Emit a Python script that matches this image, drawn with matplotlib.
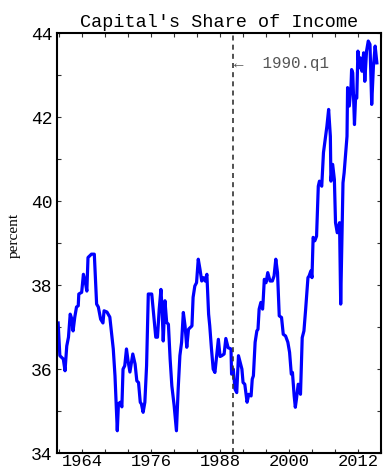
import matplotlib
matplotlib.use("Agg")
import matplotlib.pyplot as plt
from matplotlib.ticker import MultipleLocator, FixedLocator

# --- data (year, capital share in percent) ---
years = [1959.8, 1960.1, 1960.7, 1961.0, 1961.3, 1961.6, 1961.9, 1962.2, 1962.4, 1962.7,
         1963.0, 1963.3, 1963.4, 1963.9, 1964.2, 1964.5, 1964.8, 1965.0, 1965.6, 1966.1,
         1966.5, 1966.8, 1967.2, 1967.6, 1967.8, 1968.3, 1968.5, 1968.8, 1969.4, 1969.7,
         1970.1, 1970.3, 1970.6, 1970.9, 1971.1, 1971.4, 1971.7, 1972.0, 1972.3, 1972.8,
         1973.2, 1973.5, 1973.8, 1974.1, 1974.3, 1974.6, 1974.9, 1975.2, 1975.5, 1976.1,
         1976.4, 1976.8, 1977.1, 1977.4, 1977.7, 1977.9, 1978.1, 1978.4, 1978.7, 1979.0,
         1979.3, 1979.6, 1980.0, 1980.4, 1980.7, 1981.0, 1981.3, 1981.6, 1981.9, 1982.2,
         1982.5, 1982.8, 1983.1, 1983.3, 1983.6, 1983.9, 1984.2, 1984.5, 1984.8, 1985.1,
         1985.4, 1985.7, 1986.0, 1986.2, 1986.5, 1986.8, 1987.1, 1987.4, 1987.7, 1988.0,
         1988.3, 1988.7, 1989.0, 1989.4, 1989.9, 1990.0, 1990.3, 1990.6, 1990.9, 1991.2,
         1991.5, 1991.8, 1992.0, 1992.3, 1992.7, 1993.0, 1993.4, 1993.6, 1993.8, 1994.1,
         1994.4, 1994.6, 1994.8, 1995.1, 1995.4, 1995.5, 1995.7, 1996.0, 1996.3, 1996.7,
         1997.1, 1997.4, 1997.7, 1998.0, 1998.3, 1998.7, 1999.0, 1999.4, 1999.8, 2000.1,
         2000.4, 2000.6, 2000.9, 2001.1, 2001.3, 2001.6, 2002.0, 2002.3, 2002.6, 2002.9,
         2003.3, 2003.5, 2003.8, 2004.0, 2004.2, 2004.5, 2004.8, 2005.1, 2005.3, 2005.7,
         2006.0, 2006.3, 2006.6, 2006.9, 2007.2, 2007.3, 2007.6, 2007.9, 2008.1, 2008.4,
         2008.8, 2009.0, 2009.4, 2009.6, 2010.1, 2010.2, 2010.5, 2010.8, 2010.9, 2011.1,
         2011.4, 2011.6, 2011.8, 2012.0, 2012.2, 2012.4, 2012.7, 2013.0, 2013.2, 2013.5,
         2013.8, 2014.1, 2014.4, 2014.7, 2015.0, 2015.3]
share = [37.10, 36.32, 36.24, 35.96, 36.55, 36.76, 37.31, 37.19, 36.91, 37.24,
         37.48, 37.51, 37.79, 37.83, 38.26, 38.10, 37.86, 38.66, 38.74, 38.74,
         37.55, 37.48, 37.19, 37.10, 37.39, 37.36, 37.31, 37.24, 36.48, 35.84,
         34.53, 35.17, 35.21, 35.10, 36.00, 36.08, 36.48, 36.17, 35.93, 36.36,
         36.12, 35.72, 35.68, 35.21, 35.17, 34.97, 35.21, 36.08, 37.79, 37.79,
         37.36, 36.76, 36.76, 37.43, 37.90, 37.43, 36.67, 37.63, 37.11, 37.07,
         36.24, 35.60, 35.13, 34.53, 35.52, 36.32, 36.64, 37.35, 37.03, 36.52,
         36.95, 36.99, 37.03, 37.71, 37.98, 38.06, 38.62, 38.38, 38.10, 38.18,
         38.10, 38.26, 37.31, 37.03, 36.48, 36.00, 35.92, 36.32, 36.71, 36.30,
         36.32, 36.36, 36.73, 36.51, 36.48, 35.88, 36.00, 35.52, 35.44, 36.32,
         36.16, 36.00, 35.68, 35.64, 35.21, 35.40, 35.36, 35.76, 35.84, 36.64,
         36.91, 36.95, 37.43, 37.59, 37.43, 37.63, 38.14, 38.06, 38.30, 38.10,
         38.10, 38.22, 38.62, 38.30, 37.27, 37.23, 36.83, 36.79, 36.64, 36.40,
         35.88, 35.92, 35.36, 35.09, 35.29, 35.64, 35.40, 36.75, 36.91, 37.43,
         38.18, 38.22, 38.34, 38.18, 39.14, 39.06, 39.17, 40.36, 40.48, 40.36,
         41.16, 41.48, 41.79, 42.19, 41.55, 40.48, 40.88, 40.52, 39.49, 39.25,
         39.49, 37.55, 40.44, 40.68, 41.55, 42.71, 42.27, 42.75, 43.14, 43.06,
         41.83, 42.50, 42.46, 43.58, 43.18, 43.42, 43.10, 43.54, 42.86, 43.58,
         43.82, 43.74, 42.31, 43.22, 43.70, 43.30]

break_year = 1990.2
break_label = "\u2190  1990.q1"
title = "Capital's Share of Income"
xlabels = [1964, 1976, 1988, 2000, 2012]
ylabels = [34, 36, 38, 40, 42, 44]

mono = ["Liberation Mono", "DejaVu Sans Mono"]

fig = plt.figure(figsize=(3.84, 4.71), dpi=100)
ax = fig.add_axes([0.1484, 0.0382, 0.845, 0.8907])

ax.plot(years, share, color="#0000ff", lw=2.3, solid_joinstyle="round")
ax.axvline(break_year, color="#333333", lw=1.2, ls=(0, (3, 2.5)))
ax.text(break_year + 0.3, 43.29, break_label, family=mono, fontsize=11.3,
        color="#555555", ha="left", va="center")

ax.set_xlim(1959.6, 2016.1)
ax.set_ylim(34, 44)

ax.xaxis.set_major_locator(FixedLocator(xlabels))
ax.xaxis.set_minor_locator(MultipleLocator(4))
ax.yaxis.set_major_locator(FixedLocator(ylabels))
ax.yaxis.set_minor_locator(MultipleLocator(1))
ax.tick_params(which="both", direction="in", top=True, right=True, length=3,
               width=0.8, color="#333333")
ax.tick_params(axis="x", pad=1)
ax.tick_params(axis="y", pad=3)
for lab in ax.get_xticklabels():
    lab.set_family(mono)
    lab.set_fontsize(12.3)
for lab in ax.get_yticklabels():
    lab.set_family(mono)
    lab.set_fontsize(13.0)

for sp in ax.spines.values():
    sp.set_linewidth(1.5)

ax.set_title(title, family=mono, fontsize=13.3, pad=5)
fig.text(0.037, 0.50, "percent", family="Liberation Serif", fontsize=11,
         rotation=90, ha="center", va="center")

fig.savefig("out.png", dpi=100)
